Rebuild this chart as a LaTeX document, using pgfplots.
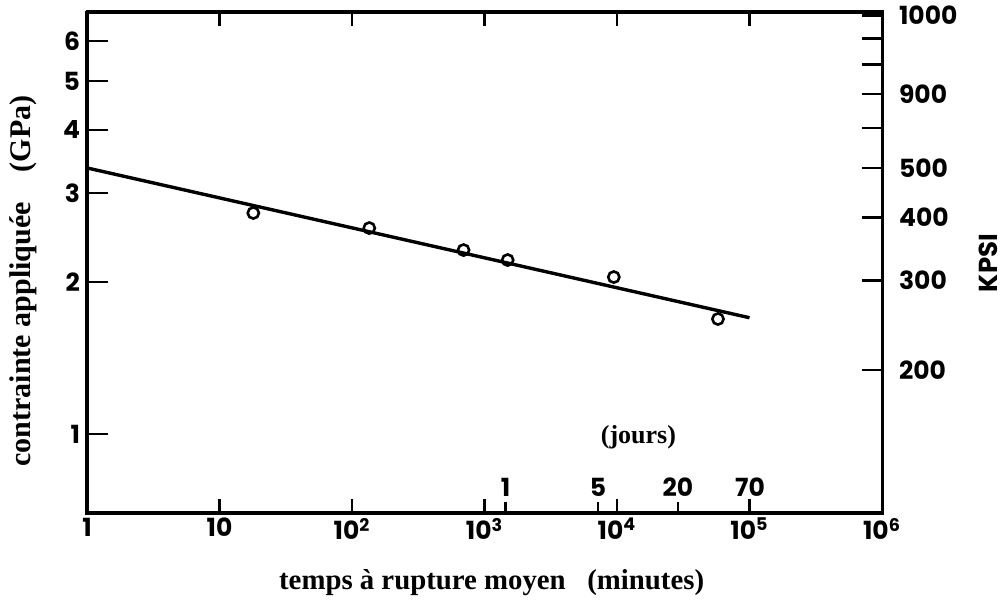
\documentclass[border=0pt]{standalone}
\usepackage{fontspec}
\setmainfont{Liberation Serif}
\newfontfamily\tickfont{Poppins}
\usepackage{pgfplots}
\pgfplotsset{compat=1.18}
\pgfplotstableread{
x y
18.0 2.74
135 2.558
695 2.314
1496 2.211
9460 2.046
57800 1.690
}\points
\pgfplotstableread{
x y
1 3.365
100000 1.70
}\fitline
\pgfplotsset{
  every axis/.append style={
    scale only axis, width=397.5pt, height=250.5pt,
    xmin=1, xmax=1e6,
    axis line style={line width=1.5pt},
    xminorticks=false, yminorticks=false,
    tick style={line width=1.3pt, black},
    tick label style={font=\fontsize{12.5}{14}\selectfont\tickfont\bfseries},
  }
}
\begin{document}
\begin{tikzpicture}
% main axis: data and x ticks
\begin{loglogaxis}[
  ymin=0.698, ymax=6.85,
  xtick={1,10,100,1000,10000,100000,1000000},
  xticklabels={1,10,10\textsuperscript{2},10\textsuperscript{3},10\textsuperscript{4},10\textsuperscript{5},10\textsuperscript{6}},
  xtick pos=both, xticklabel pos=bottom,
  xticklabel style={yshift=1pt},
  ytick=\empty,
  major tick length=7pt,
  clip=false,
]
\addplot[black, line width=1.7pt] table {\fitline};
\addplot[only marks, mark=o, mark size=2.8pt, mark options={line width=1.3pt, fill=white}] table {\points};
\node[font=\fontsize{14.4}{17}\selectfont\bfseries] at ([yshift=-35pt]rel axis cs:0.509,0) {temps à rupture moyen\ \ \ (minutes)};
\node[rotate=90, font=\fontsize{15}{17}\selectfont\bfseries] at ([xshift=-32pt]rel axis cs:0,0.463) {contrainte appliquée\ \ \ \ (GPa)};
\node[font=\fontsize{13}{15}\selectfont\bfseries] at (axis cs:14500,0.986) {(jours)};
\node[font=\fontsize{12.5}{14}\selectfont\tickfont\bfseries] at (axis cs:1440,0.785) {1};
\node[font=\fontsize{12.5}{14}\selectfont\tickfont\bfseries] at (axis cs:7200,0.785) {5};
\node[font=\fontsize{12.5}{14}\selectfont\tickfont\bfseries] at (axis cs:28800,0.785) {20};
\node[font=\fontsize{12.5}{14}\selectfont\tickfont\bfseries] at (axis cs:100800,0.785) {70};
\node[rotate=90, font=\fontsize{13}{15}\selectfont\tickfont\bfseries] at ([xshift=53pt]rel axis cs:1,0.499) {KPSI};
\end{loglogaxis}
% day ticks
\begin{loglogaxis}[
  ymin=0.698, ymax=6.85,
  xtick={1440,7200,28800}, xticklabels={}, xtick pos=bottom,
  ytick=\empty,
  major tick length=5.5pt,
]
\end{loglogaxis}
% left y axis ticks
\begin{loglogaxis}[
  ymin=0.698, ymax=6.85,
  xtick=\empty,
  ytick={1,2,3,4,5,6}, yticklabels={1,2,3,4,5,6},
  ytick pos=left,
  major tick length=10.5pt,
]
\end{loglogaxis}
% right y axis (KPSI)
\begin{loglogaxis}[
  ymin=104.4, ymax=1016,
  xtick=\empty,
  ytick={200,300,400,500,600,700,800,900,1000},
  yticklabels={200,300,400,500,{},900,{},{},1000},
  ytick pos=right, yticklabel pos=right,
  yticklabel style={xshift=5pt},
  major tick length=10pt,
]
\end{loglogaxis}
\pgfresetboundingbox
\path[use as bounding box] (-43.5pt,-44pt) rectangle (459pt,256.5pt);
\end{tikzpicture}
\end{document}
